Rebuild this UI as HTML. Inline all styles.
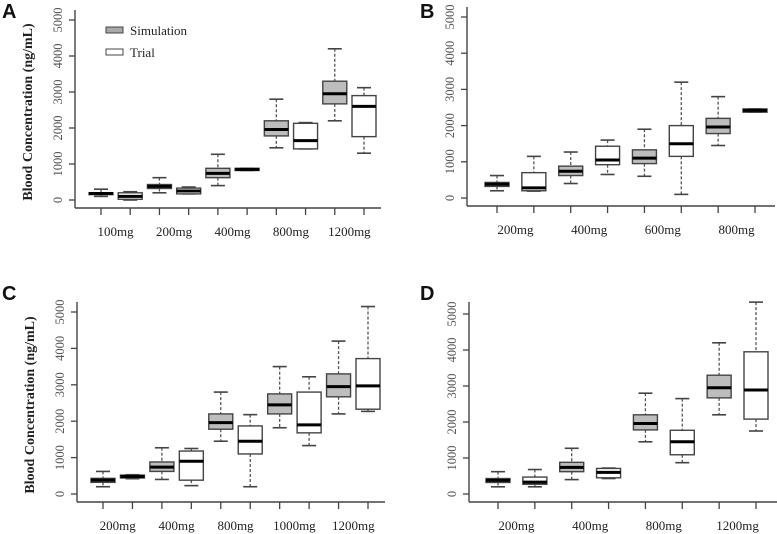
<!DOCTYPE html>
<html><head><meta charset="utf-8"><style>
html,body{margin:0;padding:0;background:#fff;}
svg{display:block;}
text{font-family:"Liberation Serif",serif;}
</style></head><body>
<svg id="chart" width="777" height="534" viewBox="0 0 777 534" xmlns="http://www.w3.org/2000/svg"></svg>
<script>
// ---- data: [min, q1, median, q3, max] ----
const groupsA = ["100mg","200mg","400mg","800mg","1200mg"];
const simA = [[100,150,180,200,300],[200,320,380,430,620],[400,620,740,880,1270],[1450,1780,1960,2200,2800],[2200,2670,2950,3300,4200]];
const trialA = [[0,20,100,200,230],[170,170,250,330,360],[820,820,850,880,880],[1420,1420,1650,2130,2150],[1300,1760,2600,2900,3120]];
const groupsB = ["200mg","400mg","600mg","800mg"];
const simB = [[200,320,380,430,620],[400,620,740,880,1270],[600,950,1100,1330,1900],[1450,1780,1960,2200,2800]];
const trialB = [[190,200,280,700,1150],[650,920,1050,1430,1600],[100,1150,1500,2000,3200],[2370,2370,2420,2460,2460]];
const groupsC = ["200mg","400mg","800mg","1000mg","1200mg"];
const simC = [[200,320,380,430,620],[400,620,740,880,1270],[1450,1780,1960,2200,2800],[1820,2200,2450,2750,3500],[2200,2670,2950,3300,4200]];
const trialC = [[420,440,480,520,530],[230,380,900,1180,1250],[200,1100,1450,1870,2180],[1330,1680,1900,2800,3220],[2270,2330,2970,3720,5150]];
const groupsD = ["200mg","400mg","800mg","1200mg"];
const simD = [[200,320,380,430,620],[400,620,740,880,1270],[1450,1780,1960,2200,2800],[2200,2670,2950,3300,4200]];
const trialD = [[200,270,330,470,680],[430,450,600,710,720],[870,1090,1450,1770,2650],[1750,2080,2890,3950,5330]];
const yTicks = [0,1000,2000,3000,4000,5000];

const svg = document.getElementById('chart');
const NS = "http://www.w3.org/2000/svg";
const SERIF = 'font-family:"Liberation Serif",serif';
function mk(tag, attrs, parent){
  const e = document.createElementNS(NS, tag);
  for (const k in attrs) e.setAttribute(k, attrs[k]);
  (parent||svg).appendChild(e);
  return e;
}

function panel(cfg){
  const g = mk('g', {});
  
  
  const y = v => cfg.y0 - (v/5000)*(cfg.y0 - cfg.y5000);
  const n = cfg.groups.length * 2;
  const xAt = i => cfg.xFirst + i*(cfg.xLast - cfg.xFirst)/(n-1);
  const L = mk('text', {x:cfg.lx, y:cfg.ly, 'font-weight':'bold', 'font-size':'20', fill:'#111', style:'font-family:"Liberation Sans",sans-serif'}, g);
  L.textContent = cfg.letter;
  
  
  const ya = mk('line', {x1:cfg.ax, x2:cfg.ax, y1:cfg.yTop, y2:cfg.axY, stroke:'#444', 'stroke-width':1.4}, g);
  
  
  yTicks.forEach(t => {
    mk('line', {x1:cfg.ax-6, x2:cfg.ax, y1:y(t), y2:y(t), stroke:'#444', 'stroke-width':1.3}, g);
    const tx = mk('text', {x:0, y:0, 'font-size':'12.5', fill:'#555', 'text-anchor':'middle', style:SERIF, transform:`translate(${cfg.ax-13},${y(t)}) rotate(-90)`}, g);
    tx.textContent = t;
    
    
  });
  const xa = mk('line', {x1:cfg.ax, x2:cfg.axRight, y1:cfg.axY, y2:cfg.axY, stroke:'#444', 'stroke-width':1.4}, g);
  
  
  for (let i=0;i<n;i++) mk('line', {x1:xAt(i), x2:xAt(i), y1:cfg.axY, y2:cfg.axY+7, stroke:'#444', 'stroke-width':1.3}, g);
  cfg.groups.forEach((lab, gi) => {
    const t = mk('text', {x:(xAt(2*gi)+xAt(2*gi+1))/2, y:cfg.axY+28, 'font-size':'13', fill:'#222', 'text-anchor':'middle', style:SERIF}, g);
    t.textContent = lab;
    
    
  });
  function box(d, cx, fill, name){
    const b = mk('g', {}, g);
    
    
    const w = 24, cw = 14;
    mk('line', {x1:cx, x2:cx, y1:y(d[4]), y2:y(d[3]), stroke:'#555', 'stroke-width':1.3, 'stroke-dasharray':'3,2'}, b);
    mk('line', {x1:cx, x2:cx, y1:y(d[1]), y2:y(d[0]), stroke:'#555', 'stroke-width':1.3, 'stroke-dasharray':'3,2'}, b);
    mk('line', {x1:cx-cw/2, x2:cx+cw/2, y1:y(d[4]), y2:y(d[4]), stroke:'#444', 'stroke-width':1.6}, b);
    mk('line', {x1:cx-cw/2, x2:cx+cw/2, y1:y(d[0]), y2:y(d[0]), stroke:'#444', 'stroke-width':1.6}, b);
    mk('rect', {x:cx-w/2, y:y(d[3]), width:w, height:Math.max(1,y(d[1])-y(d[3])), fill:fill, stroke:'#444', 'stroke-width':1.4}, b);
    mk('line', {x1:cx-w/2, x2:cx+w/2, y1:y(d[2]), y2:y(d[2]), stroke:'#000', 'stroke-width':3}, b);
  }
  cfg.sim.forEach((d,i) => box(d, xAt(2*i), '#bdbdbd', 'sim-box-' + cfg.groups[i]));
  cfg.trial.forEach((d,i) => box(d, xAt(2*i+1), '#fff', 'trial-box-' + cfg.groups[i]));
  if (cfg.ylabel){
    const t = mk('text', {x:0, y:0, 'font-size':'14', 'font-weight':'bold', fill:'#222', 'text-anchor':'middle', style:SERIF, transform:`translate(${cfg.ax-43},${(cfg.y0+cfg.y5000)/2+2}) rotate(-90)`}, g);
    t.textContent = 'Blood Concentration (ng/mL)';
    
    
  }
}

panel({letter:'A', lx:2, ly:18, ax:75, axY:208, axRight:381, yTop:10, y0:200, y5000:20, xFirst:101, xLast:364, groups:groupsA, sim:simA, trial:trialA, ylabel:true});
panel({letter:'B', lx:420, ly:18, ax:467, axY:206, axRight:775, yTop:7, y0:198, y5000:17, xFirst:497, xLast:755, groups:groupsB, sim:simB, trial:trialB, ylabel:false});
panel({letter:'C', lx:2, ly:300, ax:77, axY:502, axRight:385, yTop:302, y0:494, y5000:312, xFirst:103, xLast:368, groups:groupsC, sim:simC, trial:trialC, ylabel:true});
panel({letter:'D', lx:420, ly:300, ax:469, axY:502, axRight:777, yTop:302, y0:494, y5000:314, xFirst:498, xLast:756, groups:groupsD, sim:simD, trial:trialD, ylabel:false});

const leg = mk('g', {});


const l1 = mk('g', {}, leg);


mk('rect', {x:106, y:27, width:17, height:6, fill:'#a9a9a9', stroke:'#444', 'stroke-width':1}, l1);
const t1 = mk('text', {x:130, y:35, 'font-size':'13', fill:'#222', style:SERIF}, l1); t1.textContent = 'Simulation';
const l2 = mk('g', {}, leg);


mk('rect', {x:106, y:49, width:17, height:6, fill:'#fff', stroke:'#444', 'stroke-width':1}, l2);
const t2 = mk('text', {x:130, y:57, 'font-size':'13', fill:'#222', style:SERIF}, l2); t2.textContent = 'Trial';
</script>
</body></html>
